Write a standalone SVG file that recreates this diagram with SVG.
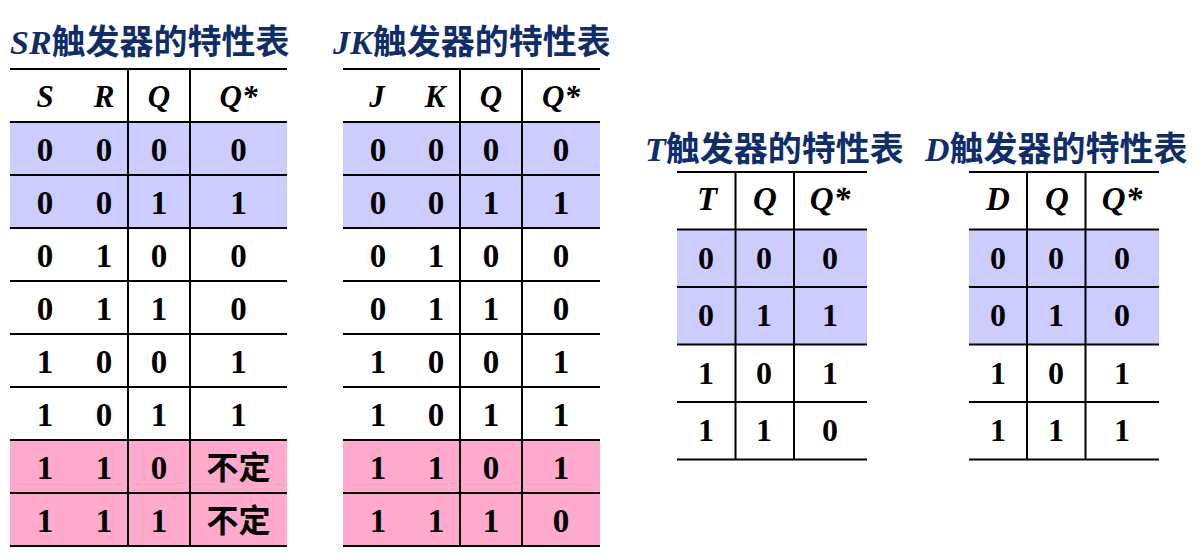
<svg xmlns="http://www.w3.org/2000/svg" width="1201" height="559" viewBox="0 0 1201 559">
<style>
.title{font-size:34px;fill:#0f2d6b;}
.lat{font-family:"Liberation Serif","Times New Roman",serif;font-style:italic;font-weight:bold;}
.cjk{font-family:"Noto Sans CJK SC","Noto Sans",sans-serif;font-weight:bold;}
.hd{font-family:"Liberation Serif","Times New Roman",serif;font-style:italic;font-weight:bold;font-size:31px;fill:#000;text-anchor:middle;}
.hd2{font-family:"Liberation Serif","Times New Roman",serif;font-style:italic;font-weight:bold;font-size:33px;fill:#000;text-anchor:middle;}
.d{font-family:"Liberation Serif","Times New Roman",serif;font-weight:bold;font-size:33px;fill:#000;text-anchor:middle;}
.d2{font-family:"Liberation Serif","Times New Roman",serif;font-weight:bold;font-size:32px;fill:#000;text-anchor:middle;}
.zh{font-family:"Noto Sans CJK SC","Noto Sans",sans-serif;font-weight:bold;font-size:32px;fill:#000;text-anchor:middle;}
.ln{stroke:#000;stroke-width:2;fill:none;}
.blue{fill:#ccccff;}
.pink{fill:#ffaacc;}
</style>

<g id="sr-table">
  <text class="title" x="10" y="54"><tspan class="lat">SR</tspan><tspan class="cjk">触发器的特性表</tspan></text>
  <rect class="blue" x="10" y="122" width="277" height="106"/>
  <rect class="pink" x="10" y="440" width="277" height="106"/>
  <g class="ln">
    <path d="M10 69H287M10 122H287M10 175H287M10 228H287M10 281H287M10 334H287M10 387H287M10 440H287M10 493H287M10 546H287"/>
    <path d="M128 69V546M190 69V546"/>
  </g>
  <text class="hd" x="45" y="107">S</text>
  <text class="hd" x="104" y="107">R</text>
  <text class="hd" x="159" y="107">Q</text>
  <text class="hd" x="238.5" y="107">Q*</text>
  <g class="d">
    <text x="45" y="161">0</text><text x="104" y="161">0</text><text x="159" y="161">0</text><text x="238.5" y="161">0</text>
    <text x="45" y="214">0</text><text x="104" y="214">0</text><text x="159" y="214">1</text><text x="238.5" y="214">1</text>
    <text x="45" y="267">0</text><text x="104" y="267">1</text><text x="159" y="267">0</text><text x="238.5" y="267">0</text>
    <text x="45" y="320">0</text><text x="104" y="320">1</text><text x="159" y="320">1</text><text x="238.5" y="320">0</text>
    <text x="45" y="373">1</text><text x="104" y="373">0</text><text x="159" y="373">0</text><text x="238.5" y="373">1</text>
    <text x="45" y="426">1</text><text x="104" y="426">0</text><text x="159" y="426">1</text><text x="238.5" y="426">1</text>
    <text x="45" y="479">1</text><text x="104" y="479">1</text><text x="159" y="479">0</text>
    <text x="45" y="532">1</text><text x="104" y="532">1</text><text x="159" y="532">1</text>
  </g>
  <text class="zh" x="238.5" y="479">不定</text>
  <text class="zh" x="238.5" y="532">不定</text>
</g>

<g id="jk-table">
  <text class="title" x="333" y="54"><tspan class="lat">JK</tspan><tspan class="cjk">触发器的特性表</tspan></text>
  <rect class="blue" x="343" y="122" width="257" height="106"/>
  <rect class="pink" x="343" y="440" width="257" height="106"/>
  <g class="ln">
    <path d="M343 69H600M343 122H600M343 175H600M343 228H600M343 281H600M343 334H600M343 387H600M343 440H600M343 493H600M343 546H600"/>
    <path d="M460 69V546M522 69V546"/>
  </g>
  <text class="hd" x="377" y="107">J</text>
  <text class="hd" x="435" y="107">K</text>
  <text class="hd" x="491" y="107">Q</text>
  <text class="hd" x="561" y="107">Q*</text>
  <g class="d">
    <text x="378" y="161">0</text><text x="436" y="161">0</text><text x="491" y="161">0</text><text x="561" y="161">0</text>
    <text x="378" y="214">0</text><text x="436" y="214">0</text><text x="491" y="214">1</text><text x="561" y="214">1</text>
    <text x="378" y="267">0</text><text x="436" y="267">1</text><text x="491" y="267">0</text><text x="561" y="267">0</text>
    <text x="378" y="320">0</text><text x="436" y="320">1</text><text x="491" y="320">1</text><text x="561" y="320">0</text>
    <text x="378" y="373">1</text><text x="436" y="373">0</text><text x="491" y="373">0</text><text x="561" y="373">1</text>
    <text x="378" y="426">1</text><text x="436" y="426">0</text><text x="491" y="426">1</text><text x="561" y="426">1</text>
    <text x="378" y="479">1</text><text x="436" y="479">1</text><text x="491" y="479">0</text><text x="561" y="479">1</text>
    <text x="378" y="532">1</text><text x="436" y="532">1</text><text x="491" y="532">1</text><text x="561" y="532">0</text>
  </g>
</g>

<g id="t-table">
  <text class="title" x="645" y="161"><tspan class="lat">T</tspan><tspan class="cjk">触发器的特性表</tspan></text>
  <rect class="blue" x="677" y="229.5" width="190" height="115"/>
  <g class="ln">
    <path d="M677 172H867M677 229.5H867M677 287H867M677 344.5H867M677 402H867M677 459.5H867"/>
    <path d="M735.5 172V459.5M794 172V459.5"/>
  </g>
  <text class="hd2" x="707" y="210">T</text>
  <text class="hd2" x="765" y="210">Q</text>
  <text class="hd2" x="830" y="210">Q*</text>
  <g class="d2">
    <text x="706" y="268.5">0</text><text x="764" y="268.5">0</text><text x="830" y="268.5">0</text>
    <text x="706" y="326">0</text><text x="764" y="326">1</text><text x="830" y="326">1</text>
    <text x="706" y="383.5">1</text><text x="764" y="383.5">0</text><text x="830" y="383.5">1</text>
    <text x="706" y="441">1</text><text x="764" y="441">1</text><text x="830" y="441">0</text>
  </g>
</g>

<g id="d-table">
  <text class="title" x="925" y="161"><tspan class="lat">D</tspan><tspan class="cjk">触发器的特性表</tspan></text>
  <rect class="blue" x="969" y="229.5" width="190" height="115"/>
  <g class="ln">
    <path d="M969 172H1159M969 229.5H1159M969 287H1159M969 344.5H1159M969 402H1159M969 459.5H1159"/>
    <path d="M1027 172V459.5M1085.5 172V459.5"/>
  </g>
  <text class="hd2" x="998" y="210">D</text>
  <text class="hd2" x="1057" y="210">Q</text>
  <text class="hd2" x="1122" y="210">Q*</text>
  <g class="d2">
    <text x="998" y="268.5">0</text><text x="1056" y="268.5">0</text><text x="1122" y="268.5">0</text>
    <text x="998" y="326">0</text><text x="1056" y="326">1</text><text x="1122" y="326">0</text>
    <text x="998" y="383.5">1</text><text x="1056" y="383.5">0</text><text x="1122" y="383.5">1</text>
    <text x="998" y="441">1</text><text x="1056" y="441">1</text><text x="1122" y="441">1</text>
  </g>
</g>
</svg>
